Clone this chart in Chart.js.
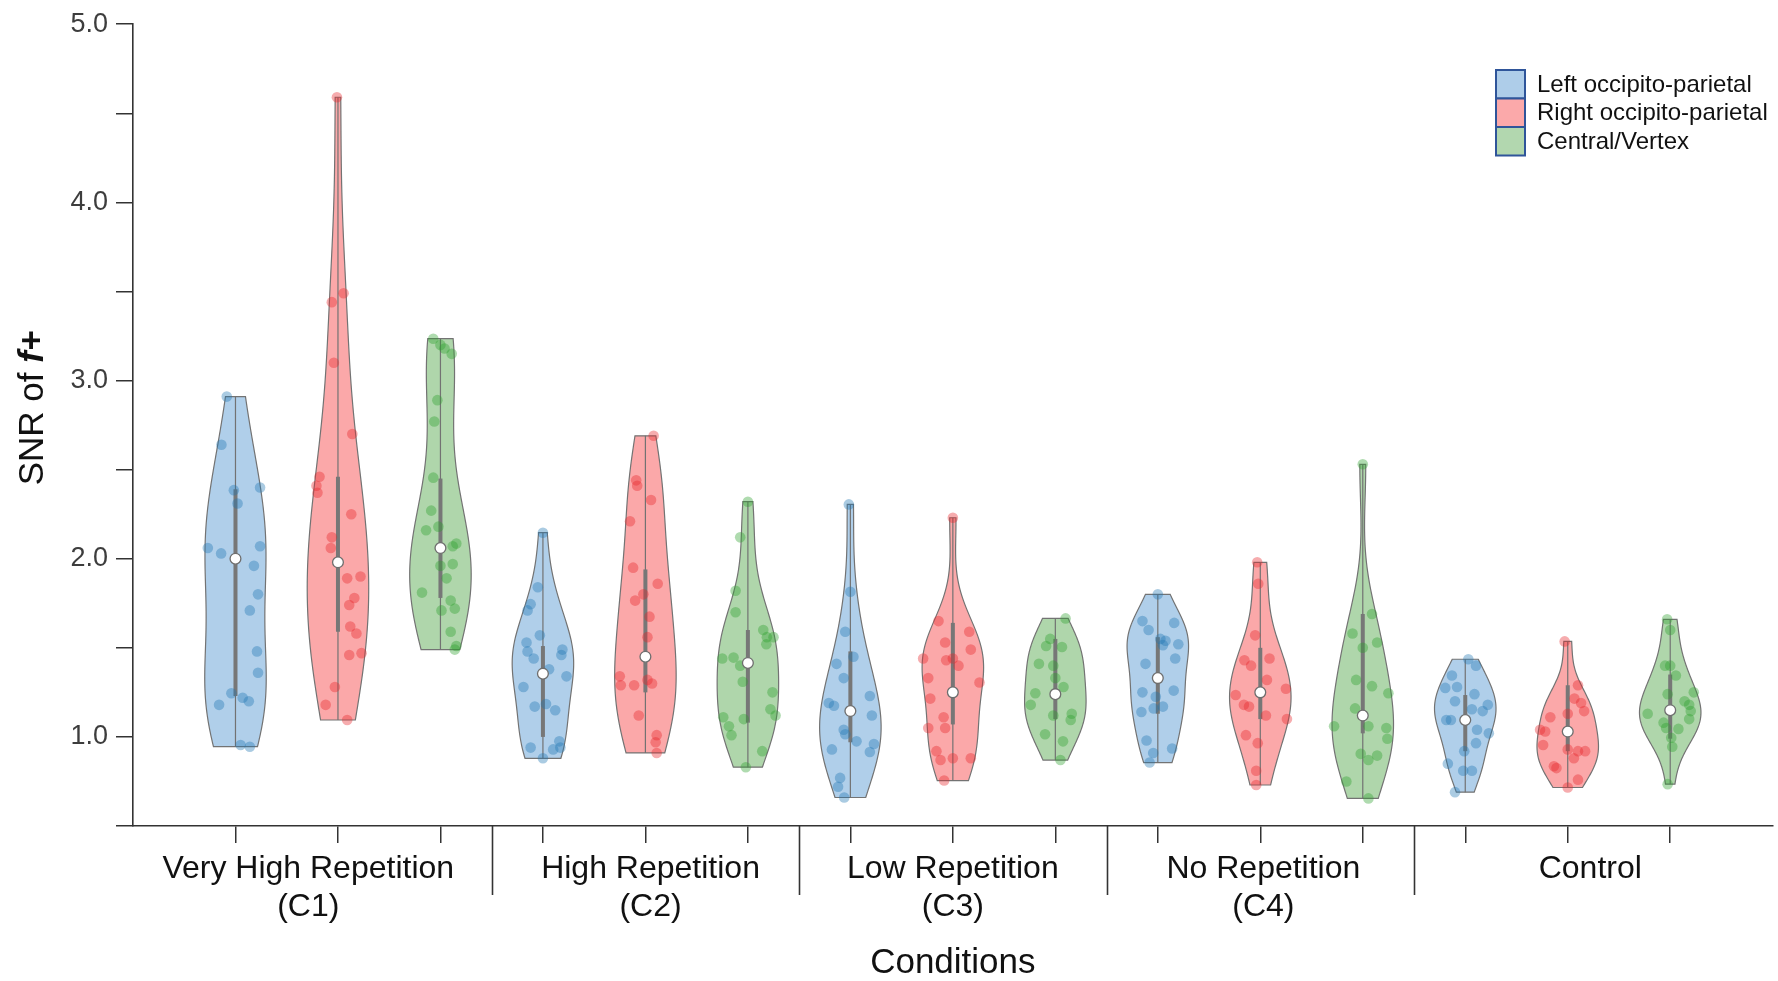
<!DOCTYPE html>
<html><head><meta charset="utf-8">
<script src="https://cdn.jsdelivr.net/npm/chart.js@4.4.1/dist/chart.umd.min.js"></script>
<style>html,body{margin:0;padding:0;background:#fff;}#wrap{width:1778px;height:981px;position:relative;}</style>
</head><body><div id="wrap"><canvas id="c" width="1778" height="981"></canvas></div>
<script>
// ---------- DATA ----------
const conditionLabels = [['Very High Repetition','(C1)'],['High Repetition','(C2)'],['Low Repetition','(C3)'],['No Repetition','(C4)'],['Control']];
const regions = ['Left occipito-parietal','Right occipito-parietal','Central/Vertex'];
const yTickLabels = ['1.0','2.0','3.0','4.0','5.0'];

// points: [SNR value, horizontal jitter] per condition
const left_C1 = [[2.91,-0.085],[2.64,-0.137],[2.385,-0.016],[2.40,0.24],[2.31,0.02],[2.06,-0.27],[2.03,-0.14],[2.07,0.24],[1.96,0.18],[1.80,0.22],[1.71,0.14],[1.48,0.21],[1.36,0.22],[1.245,-0.04],[1.22,0.07],[1.20,0.13],[1.18,-0.16],[0.955,0.05],[0.945,0.14]];
const left_C2 = [[2.146,0],[1.84,-0.05],[1.745,-0.12],[1.71,-0.15],[1.57,-0.03],[1.53,-0.16],[1.48,-0.15],[1.44,-0.09],[1.49,0.19],[1.46,0.18],[1.38,0.06],[1.34,0.23],[1.28,-0.19],[1.17,-0.08],[1.185,0.03],[1.15,0.12],[0.94,-0.12],[0.975,0.16],[0.94,0.17],[0.93,0.10],[0.88,0]];
const left_C3 = [[2.305,-0.015],[1.815,0],[1.59,-0.05],[1.41,-0.135],[1.45,0.03],[1.33,-0.065],[1.23,0.19],[1.19,-0.21],[1.175,-0.16],[1.12,0.21],[1.04,-0.065],[1.015,-0.05],[0.975,0.06],[0.96,0.23],[0.915,0.19],[0.93,-0.18],[0.77,-0.10],[0.72,-0.12],[0.66,-0.06]];
const left_C4 = [[1.80,0],[1.65,-0.15],[1.60,-0.09],[1.64,0.16],[1.55,0.025],[1.54,0.075],[1.52,0.20],[1.515,0.05],[1.44,0.17],[1.41,-0.12],[1.25,-0.15],[1.225,-0.02],[1.26,0.155],[1.14,-0.16],[1.16,-0.04],[1.17,0.05],[0.98,-0.11],[0.935,0.14],[0.91,-0.045],[0.856,-0.08]];
const left_Ctrl = [[1.436,0.03],[1.40,0.105],[1.345,-0.13],[1.275,-0.195],[1.28,-0.08],[1.20,-0.10],[1.24,0.09],[1.155,0.065],[1.145,0.17],[1.18,0.22],[1.095,-0.185],[1.095,-0.14],[1.04,0.115],[1.02,0.23],[0.965,0.105],[0.92,-0.01],[0.85,-0.17],[0.81,-0.02],[0.81,0.065],[0.69,-0.10]];

const right_C1 = [[4.59,-0.01],[3.44,-0.06],[3.49,0.055],[3.10,-0.04],[2.70,0.14],[2.46,-0.18],[2.41,-0.21],[2.37,-0.20],[2.25,0.13],[2.12,-0.06],[2.06,-0.07],[1.89,0.09],[1.90,0.22],[1.78,0.16],[1.74,0.11],[1.62,0.12],[1.58,0.18],[1.46,0.11],[1.47,0.23],[1.28,-0.03],[1.18,-0.12],[1.095,0.09]];
const right_C2 = [[2.69,0.08],[2.44,-0.09],[2.41,-0.08],[2.33,0.055],[2.21,-0.15],[1.95,-0.12],[1.86,0.12],[1.80,-0.02],[1.765,-0.10],[1.675,0.04],[1.56,0.02],[1.34,-0.25],[1.29,-0.24],[1.29,-0.11],[1.32,0.02],[1.30,0.065],[1.12,-0.065],[1.01,0.11],[0.97,0.10],[0.91,0.11]];
const right_C3 = [[2.23,0],[1.65,-0.14],[1.59,0.16],[1.53,-0.075],[1.49,0.175],[1.44,-0.29],[1.43,-0.065],[1.44,0],[1.40,0.055],[1.33,-0.24],[1.305,0.26],[1.215,-0.22],[1.11,-0.09],[1.05,-0.075],[1.05,-0.24],[0.92,-0.16],[0.87,-0.12],[0.88,0],[0.88,0.175],[0.755,-0.085]];
const right_C4 = [[1.98,-0.03],[1.86,-0.02],[1.57,-0.05],[1.43,-0.155],[1.40,-0.09],[1.44,0.09],[1.32,0.065],[1.27,0.25],[1.235,-0.24],[1.18,-0.16],[1.17,-0.11],[1.12,0.055],[1.10,0.26],[1.01,-0.14],[0.965,-0.025],[0.81,-0.04],[0.73,-0.04]];
const right_Ctrl = [[1.536,-0.03],[1.29,0.10],[1.215,0.065],[1.19,0.13],[1.145,0.16],[1.13,0],[1.11,-0.17],[1.04,-0.27],[1.03,-0.22],[0.955,-0.24],[0.93,0],[0.92,0.10],[0.92,0.17],[0.88,0.06],[0.835,-0.135],[0.825,-0.11],[0.76,0.10],[0.716,0]];

const central_C1 = [[3.235,-0.07],[3.20,0],[3.18,0.04],[3.15,0.11],[2.89,-0.03],[2.77,-0.06],[2.455,-0.07],[2.27,-0.09],[2.16,-0.14],[2.18,-0.02],[2.07,0.12],[2.085,0.155],[1.96,0],[1.97,0.12],[1.89,0.06],[1.81,-0.18],[1.71,0.01],[1.765,0.10],[1.72,0.14],[1.59,0.10],[1.51,0.155],[1.49,0.14]];
const central_C2 = [[2.32,0],[2.12,-0.075],[1.82,-0.12],[1.70,-0.12],[1.60,0.15],[1.56,0.185],[1.56,0.25],[1.52,0.18],[1.44,-0.25],[1.445,-0.14],[1.40,-0.075],[1.31,-0.05],[1.25,0.24],[1.155,0.22],[1.12,0.27],[1.11,-0.24],[1.10,-0.04],[1.06,-0.185],[1.01,-0.16],[0.92,0.14],[0.83,-0.02]];
const central_C3 = [[1.665,0.10],[1.55,-0.05],[1.51,-0.09],[1.505,0.065],[1.41,-0.16],[1.40,-0.02],[1.33,0],[1.28,0.08],[1.245,-0.195],[1.18,-0.24],[1.12,-0.02],[1.13,0.16],[1.095,0.15],[1.015,-0.10],[0.975,0.075],[0.87,0.05]];
const central_C4 = [[2.53,0],[1.69,0.09],[1.58,-0.10],[1.53,0.14],[1.50,0],[1.32,-0.065],[1.285,0.09],[1.245,0.25],[1.16,-0.075],[1.06,0.055],[1.06,-0.28],[1.05,0.23],[0.99,0.24],[0.905,-0.02],[0.87,0.055],[0.895,0.14],[0.75,-0.16],[0.655,0.055]];
const central_Ctrl = [[1.66,-0.03],[1.60,0],[1.40,-0.05],[1.40,0],[1.345,0.055],[1.25,0.23],[1.24,-0.025],[1.20,0.14],[1.18,0.185],[1.145,0.20],[1.13,-0.22],[1.10,0.185],[1.08,-0.065],[1.05,-0.04],[1.045,0.08],[0.995,0.01],[0.945,0.02],[0.735,-0.025]];

// box statistics (per condition)
const leftMedian = [2.0, 1.355, 1.145, 1.33, 1.095];
const leftQ1 = [1.23, 1.0, 0.97, 1.13, 0.92];
const leftQ3 = [2.39, 1.51, 1.48, 1.56, 1.235];
const rightMedian = [1.98, 1.45, 1.25, 1.25, 1.03];
const rightQ1 = [1.59, 1.25, 1.07, 1.10, 0.92];
const rightQ3 = [2.46, 1.94, 1.64, 1.50, 1.29];
const centralMedian = [2.06, 1.415, 1.24, 1.12, 1.15];
const centralQ1 = [1.78, 1.08, 1.10, 1.02, 0.99];
const centralQ3 = [2.45, 1.60, 1.55, 1.69, 1.35];

// ---------- STYLE / LAYOUT ----------
const FONT = "'Liberation Sans', Arial, Helvetica, sans-serif";
const violinFill = ['#b0cfea', '#fba8a9', '#afd6ab'];
const pointColor = ['rgba(31,119,180,0.38)', 'rgba(232,36,42,0.38)', 'rgba(44,160,44,0.38)'];
const legendFill = ['#aecde9', '#fba9aa', '#b2d7af'];
const HALF_WIDTH = 0.3;
const labelCenters = [1.71, 5.05, 8.0, 11.03, 14.22];
const dividers = [3.5, 6.5, 9.5, 12.5];

const pointSets = [
  [left_C1, left_C2, left_C3, left_C4, left_Ctrl],
  [right_C1, right_C2, right_C3, right_C4, right_Ctrl],
  [central_C1, central_C2, central_C3, central_C4, central_Ctrl]
];
const medians = [leftMedian, rightMedian, centralMedian];
const q1s = [leftQ1, rightQ1, centralQ1];
const q3s = [leftQ3, rightQ3, centralQ3];

function posOf(c, r) { return c * 3 + r + 1; }

const violins = [];
for (let c = 0; c < 5; c++) for (let r = 0; r < 3; r++) {
  violins.push({ pos: posOf(c, r), r, c, vals: pointSets[r][c].map(p => p[0]) });
}

function kdeProfile(vals) {
  const n = vals.length;
  const mean = vals.reduce((a, b) => a + b, 0) / n;
  const sd = Math.sqrt(vals.reduce((a, b) => a + (b - mean) * (b - mean), 0) / (n - 1));
  const bw = sd * Math.pow(n, -0.2);
  const lo = Math.min(...vals), hi = Math.max(...vals);
  const N = 150, out = [];
  for (let i = 0; i <= N; i++) {
    const y = lo + (hi - lo) * i / N;
    let d = 0;
    for (const v of vals) { const z = (y - v) / bw; d += Math.exp(-0.5 * z * z); }
    out.push([y, d]);
  }
  const mx = Math.max(...out.map(o => o[1]));
  return out.map(([y, d]) => [y, d / mx]);
}
violins.forEach(v => v.profile = kdeProfile(v.vals));

const datasets = [];
for (let r = 0; r < 3; r++) for (let c = 0; c < 5; c++) {
  datasets.push({
    label: regions[r] + ' ' + c,
    data: pointSets[r][c].map(p => ({ x: posOf(c, r) + p[1], y: p[0] })),
    backgroundColor: pointColor[r],
    borderWidth: 0,
    pointRadius: 5.3,
    pointHoverRadius: 5.3
  });
}

const violinPlugin = {
  id: 'violins',
  beforeDatasetsDraw(chart) {
    const ctx = chart.ctx, xs = chart.scales.x, ys = chart.scales.y;
    ctx.save();
    violins.forEach(v => {
      const prof = v.profile;
      ctx.beginPath();
      prof.forEach(([y, w], i) => {
        const px = xs.getPixelForValue(v.pos - w * HALF_WIDTH), py = ys.getPixelForValue(y);
        if (i === 0) ctx.moveTo(px, py); else ctx.lineTo(px, py);
      });
      for (let i = prof.length - 1; i >= 0; i--) {
        const [y, w] = prof[i];
        ctx.lineTo(xs.getPixelForValue(v.pos + w * HALF_WIDTH), ys.getPixelForValue(y));
      }
      ctx.closePath();
      ctx.fillStyle = violinFill[v.r];
      ctx.fill();
      ctx.strokeStyle = '#737373';
      ctx.lineWidth = 1.2;
      ctx.stroke();
      const cx = xs.getPixelForValue(v.pos);
      const lo = Math.min(...v.vals), hi = Math.max(...v.vals);
      ctx.beginPath();
      ctx.moveTo(cx, ys.getPixelForValue(lo));
      ctx.lineTo(cx, ys.getPixelForValue(hi));
      ctx.strokeStyle = '#727272';
      ctx.lineWidth = 1.2;
      ctx.stroke();
      ctx.beginPath();
      ctx.moveTo(cx, ys.getPixelForValue(q1s[v.r][v.c]));
      ctx.lineTo(cx, ys.getPixelForValue(q3s[v.r][v.c]));
      ctx.lineWidth = 4;
      ctx.strokeStyle = '#777777';
      ctx.stroke();
    });
    ctx.restore();
  },
  afterDatasetsDraw(chart) {
    const ctx = chart.ctx, xs = chart.scales.x, ys = chart.scales.y;
    ctx.save();
    violins.forEach(v => {
      const cx = xs.getPixelForValue(v.pos), cy = ys.getPixelForValue(medians[v.r][v.c]);
      ctx.beginPath();
      ctx.arc(cx, cy, 5.4, 0, Math.PI * 2);
      ctx.fillStyle = '#ffffff';
      ctx.fill();
      ctx.lineWidth = 1.3;
      ctx.strokeStyle = '#6e6e6e';
      ctx.stroke();
    });
    ctx.restore();
  },
  afterDraw(chart) {
    const ctx = chart.ctx, xs = chart.scales.x, ca = chart.chartArea;
    ctx.save();
    ctx.strokeStyle = '#333';
    ctx.lineWidth = 1.6;
    dividers.forEach(d => {
      const px = Math.round(xs.getPixelForValue(d)) + 0.5;
      ctx.beginPath(); ctx.moveTo(px, ca.bottom); ctx.lineTo(px, ca.bottom + 69); ctx.stroke();
    });
    ctx.fillStyle = '#111';
    ctx.font = '32px ' + FONT;
    ctx.textAlign = 'center';
    ctx.textBaseline = 'middle';
    conditionLabels.forEach((lines, i) => {
      const px = xs.getPixelForValue(labelCenters[i]);
      lines.forEach((t, j) => ctx.fillText(t, px, ca.bottom + 43 + j * 38));
    });
    ctx.font = '35px ' + FONT;
    ctx.fillText('Conditions', (ca.left + ca.right) / 2, ca.bottom + 137);
    ctx.translate(33, 408);
    ctx.rotate(-Math.PI / 2);
    const part1 = 'SNR of ', part2 = 'f+';
    ctx.font = '35px ' + FONT;
    const w1 = ctx.measureText(part1).width;
    ctx.font = 'italic bold 35px ' + FONT;
    const w2 = ctx.measureText(part2).width;
    ctx.textAlign = 'left';
    ctx.font = '35px ' + FONT;
    ctx.fillText(part1, -(w1 + w2) / 2, 0);
    ctx.font = 'italic bold 35px ' + FONT;
    ctx.fillText(part2, -(w1 + w2) / 2 + w1, 0);
    ctx.restore();
    ctx.save();
    const bx = 1496, by = 70, bw = 29, bh = 28.5;
    regions.forEach((name, i) => {
      const y = by + i * bh;
      ctx.fillStyle = legendFill[i];
      ctx.fillRect(bx, y, bw, bh);
      ctx.strokeStyle = '#2f559a';
      ctx.lineWidth = 2;
      ctx.strokeRect(bx, y, bw, bh);
      ctx.fillStyle = '#111';
      ctx.font = '24px ' + FONT;
      ctx.textAlign = 'left';
      ctx.textBaseline = 'middle';
      ctx.fillText(name, 1537, y + bh / 2 + 1);
    });
    ctx.restore();
  }
};

new Chart(document.getElementById('c'), {
  type: 'scatter',
  data: { datasets },
  options: {
    responsive: false,
    animation: false,
    devicePixelRatio: 1,
    layout: { padding: { top: 21, right: 5, left: 0, bottom: 0 } },
    plugins: { legend: { display: false }, tooltip: { enabled: false } },
    scales: {
      x: {
        type: 'linear', min: 0, max: 16,
        afterBuildTicks: s => { s.ticks = violins.map(v => ({ value: v.pos })); },
        ticks: { display: false },
        grid: { drawOnChartArea: false, drawTicks: true, tickLength: 17, color: '#333', lineWidth: 1.5 },
        border: { color: '#333', width: 1.6 },
        afterFit: s => { s.height = 155; }
      },
      y: {
        type: 'linear', min: 0.5, max: 5,
        ticks: {
          stepSize: 0.5,
          callback: v => { const i = yTickLabels.indexOf(Number(v).toFixed(1)); return (Math.abs(v - Math.round(v)) < 1e-6 && i >= 0) ? yTickLabels[i] : ''; },
          font: { family: FONT, size: 27 }, color: '#3d3d3d', padding: 8
        },
        grid: { drawOnChartArea: false, drawTicks: true, tickLength: 17, color: '#333', lineWidth: 1.5 },
        border: { color: '#333', width: 1.6 },
        afterFit: s => { s.width = 133; }
      }
    }
  },
  plugins: [violinPlugin]
});
</script>
</body></html>
